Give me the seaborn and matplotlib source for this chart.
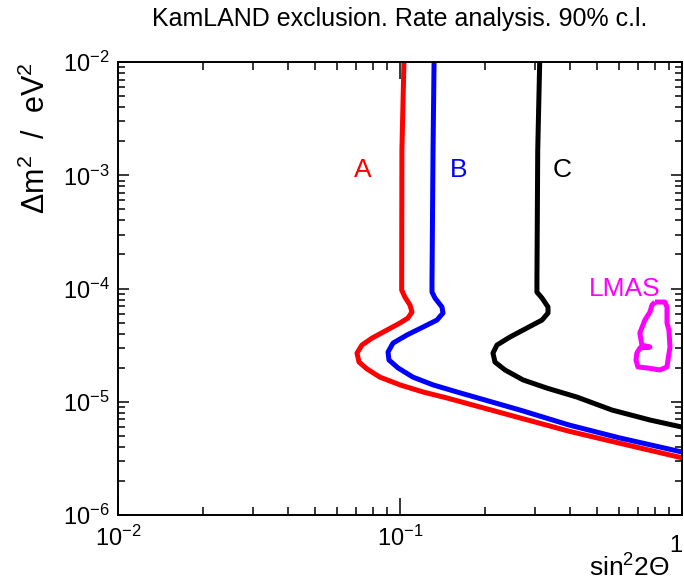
import numpy as np
import pandas as pd
import matplotlib
matplotlib.use("Agg")
import matplotlib.pyplot as plt
import seaborn as sns

# exclusion contours (sin^2 2theta, dm^2 in eV^2)
a_x = [0.1033, 0.1016, 0.1014, 0.1014, 0.1041, 0.1085, 0.1103, 0.1067, 0.1000,
       0.0899, 0.0796, 0.0733, 0.0704, 0.0716, 0.0764, 0.0849, 0.1000, 0.1207,
       0.1468, 0.2665, 0.397, 0.602, 1.0]
a_y = [1e-2, 1.67e-3, 1.19e-4, 9.7e-5, 8.41e-5, 7.15e-5, 6.2e-5, 5.49e-5, 4.96e-5,
       4.30e-5, 3.65e-5, 3.17e-5, 2.69e-5, 2.24e-5, 1.95e-5, 1.65e-5, 1.41e-5, 1.22e-5,
       1.08e-5, 7.2e-6, 5.5e-6, 4.3e-6, 3.2e-6]

b_x = [0.1321, 0.1310, 0.1299, 0.1299, 0.1331, 0.1409, 0.1421, 0.1353, 0.1207,
       0.1059, 0.0945, 0.0907, 0.0914, 0.0984, 0.1112, 0.1309, 0.1593, 0.2665,
       0.397, 0.602, 1.0]
b_y = [1e-2, 1.67e-3, 1.19e-4, 9.31e-5, 8.24e-5, 6.87e-5, 6.08e-5, 5.27e-5, 4.57e-5,
       3.89e-5, 3.30e-5, 2.75e-5, 2.34e-5, 1.99e-5, 1.65e-5, 1.41e-5, 1.22e-5, 8.45e-6,
       6.24e-6, 4.79e-6, 3.6e-6]

c_x = [0.313, 0.308, 0.306, 0.306, 0.319, 0.335, 0.335, 0.319, 0.282, 0.2455,
       0.2208, 0.2137, 0.2173, 0.2357, 0.2731, 0.332, 0.4243, 0.565, 0.770, 1.0]
c_y = [1e-2, 1.67e-3, 1.19e-4, 9.3e-5, 8.24e-5, 6.87e-5, 6.08e-5, 5.27e-5, 4.48e-5, 3.73e-5,
       3.17e-5, 2.69e-5, 2.24e-5, 1.91e-5, 1.56e-5, 1.32e-5, 1.10e-5, 8.45e-6, 6.9e-6, 5.98e-6]

# LMA solution island
lmas_x = [0.802, 0.870, 0.885, 0.885, 0.899, 0.907, 0.892, 0.885, 0.835, 0.751,
          0.698, 0.687, 0.692, 0.709, 0.770, 0.721, 0.709, 0.739, 0.770, 0.783, 0.802]
lmas_y = [7.6e-5, 7.6e-5, 6.87e-5, 4.96e-5, 4.30e-5, 3.04e-5, 2.34e-5, 2.03e-5, 1.91e-5, 1.99e-5,
          2.03e-5, 2.34e-5, 2.69e-5, 2.98e-5, 3.04e-5, 3.17e-5, 4.05e-5, 5.27e-5, 6.2e-5, 7.14e-5, 7.6e-5]

labels = ["A", "B", "C", "LMAS"]
label_x = [0.074, 0.161, 0.375, 0.628]
label_y = [1.11e-3, 1.11e-3, 1.11e-3, 9.9e-5]
colors = ["#ff0000", "#0000ff", "#000000", "#ff00ff"]

x_ticks = [1e-2, 1e-1, 1.0]
x_ticklabels = [r"$10^{-2}$", r"$10^{-1}$", ""]
y_ticks = [1e-6, 1e-5, 1e-4, 1e-3, 1e-2]
y_ticklabels = [r"$10^{-6}$", r"$10^{-5}$", r"$10^{-4}$", r"$10^{-3}$", r"$10^{-2}$"]

sns.set_style("ticks")
plt.rcParams['font.family'] = ['Liberation Sans', 'DejaVu Sans']
plt.rcParams['mathtext.fontset'] = 'custom'
plt.rcParams['mathtext.rm'] = 'Liberation Sans'
plt.rcParams['mathtext.it'] = 'Liberation Sans:italic'
plt.rcParams['mathtext.bf'] = 'Liberation Sans:bold'
for key in ['text.color', 'axes.labelcolor', 'xtick.color', 'ytick.color', 'axes.edgecolor']:
    plt.rcParams[key] = 'black'

fig = plt.figure(figsize=(6.84, 5.86), dpi=100)
ax = fig.add_axes([0.1725, 0.1212, 0.8245, 0.7728])

curves = [(a_x, a_y), (b_x, b_y), (c_x, c_y), (lmas_x, lmas_y)]
for (xs, ys), col in zip(curves, colors):
    df = pd.DataFrame({"x": xs, "y": ys})
    sns.lineplot(data=df, x="x", y="y", sort=False, estimator=None,
                 color=col, lw=3.6, ax=ax, solid_joinstyle="round",
                 solid_capstyle="butt")

for txt, lx, ly, col in zip(labels, label_x, label_y, colors):
    ax.text(lx, ly, txt, color=col, fontsize=19, ha="center", va="center")

ax.set_xscale("log")
ax.set_yscale("log")
ax.set_xlim(1e-2, 1.0)
ax.set_ylim(1e-6, 1e-2)

ax.set_xticks(x_ticks)
ax.set_xticklabels(x_ticklabels, fontsize=17)
ax.set_yticks(y_ticks)
ax.set_yticklabels(y_ticklabels, fontsize=17)
# ROOT writes the last decade as a plain "1"
ax.text(1.0, -0.044, "1", transform=ax.get_xaxis_transform(),
        fontsize=17, ha="right", va="top")

ax.tick_params(axis="x", which="major", direction="in", length=12, width=1.1,
               top=True, bottom=True, pad=8)
ax.tick_params(axis="x", which="minor", direction="in", length=6, width=1.1,
               top=True, bottom=True)
ax.tick_params(axis="y", which="major", direction="in", length=8, width=1.1,
               left=True, right=True, pad=6)
ax.tick_params(axis="y", which="minor", direction="in", length=5, width=1.1,
               left=True, right=True)
for s in ax.spines.values():
    s.set_linewidth(1.4)
    s.set_visible(True)

ax.set_xlabel(r"sin$^{2}$2$\Theta$", fontsize=19, ha="right", va="top")
ax.xaxis.set_label_coords(0.979, -0.088)
ax.set_ylabel(r"$\Delta$m$^{2}$  /  eV$^{2}$", fontsize=22, loc="top", labelpad=8)
ax.set_title("KamLAND exclusion. Rate analysis. 90% c.l.", fontsize=18, pad=26)

fig.savefig("out.png", dpi=100)
